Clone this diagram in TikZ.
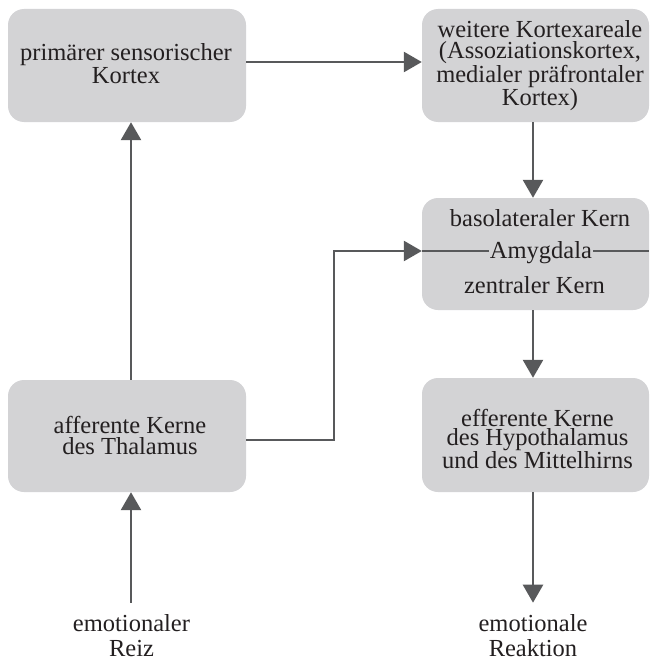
\documentclass[tikz,border=0pt]{standalone}
\usepackage{fontspec}
\setmainfont{Liberation Serif}
\usetikzlibrary{arrows.meta}
\definecolor{boxgray}{HTML}{D3D3D5}
\definecolor{linegray}{HTML}{58595B}
\definecolor{textgray}{HTML}{231F20}
\begin{document}
\begin{tikzpicture}[x=1pt,y=-1pt,
  box/.style={fill=boxgray, rounded corners=16pt, draw=none, inner sep=0pt},
  lbl/.style={text=textgray, align=center, inner sep=0pt},
  fs/.style={font=\fontsize{24.5}{#1}\selectfont},
  arr/.style={draw=linegray, line width=2.6pt, -{Triangle[length=18pt,width=20pt]}},
  ln/.style={draw=linegray, line width=2.6pt}]
\useasboundingbox (0,0) rectangle (651,661);

% boxes
\node[box, minimum width=238pt, minimum height=113pt] (prim) at (127,65.5) {};
\node[box, minimum width=227pt, minimum height=113pt] (weit) at (535.5,65.5) {};
\node[box, minimum width=227pt, minimum height=112pt] (amyg) at (535.5,254) {};
\node[box, minimum width=238pt, minimum height=112pt] (thal) at (127,436) {};
\node[box, minimum width=227pt, minimum height=114pt] (eff) at (535.5,435) {};

% box texts
\node[lbl, fs=23pt] (primt) at (126,64) {primärer sensorischer\\Kortex};
\node[lbl, fs=21pt] (weitt) at (540,65.5) {weitere Kortexareale\\(Assoziationskortex,\\medialer präfrontaler\\Kortex)};
\node[lbl, fs=21pt] (thalt) at (130,435) {afferente Kerne\\des Thalamus};
\node[lbl, fs=19.5pt] (efft) at (537.5,439) {efferente Kerne\\des Hypothalamus\\und des Mittelhirns};
\node[lbl, fs=25pt] (baso) at (540,218.5) {basolateraler Kern};
\node[lbl, fs=25pt] (zent) at (534.5,284.7) {zentraler Kern};

% free labels
\node[lbl, fs=25pt] (reiz) at (131.5,636) {emotionaler\\Reiz};
\node[lbl, fs=25pt] (reakt) at (533,636) {emotionale\\Reaktion};

% amygdala line with label
\draw[ln] ([yshift=3pt]amyg.west) -- ([yshift=3pt]amyg.east);
\node[lbl, fs=25pt, fill=boxgray, inner xsep=1pt] (amy) at (541,252.3) {Amygdala};

% connectors
\draw[arr] ([yshift=3.5pt]prim.east) -- ([yshift=3.5pt]weit.west);
\draw[arr] ([xshift=-2.5pt]weit.south) -- ([xshift=-2.5pt]amyg.north);
\draw[arr] ([xshift=-2.5pt]amyg.south) -- ([xshift=-2.5pt]eff.north);
\draw[arr] ([xshift=-2.5pt]eff.south) -- ([xshift=-2.5pt,yshift=12pt]eff.south |- reakt.north);
\draw[arr] ([xshift=4pt,yshift=12pt]thal.south |- reiz.north) -- ([xshift=4pt]thal.south);
\draw[arr] ([xshift=4pt]thal.north) -- ([xshift=4pt]prim.south);
\draw[arr] ([yshift=-4pt]thal.east) -- (334,440) -- (334,251) -- ([yshift=3pt]amyg.west);
\end{tikzpicture}
\end{document}
